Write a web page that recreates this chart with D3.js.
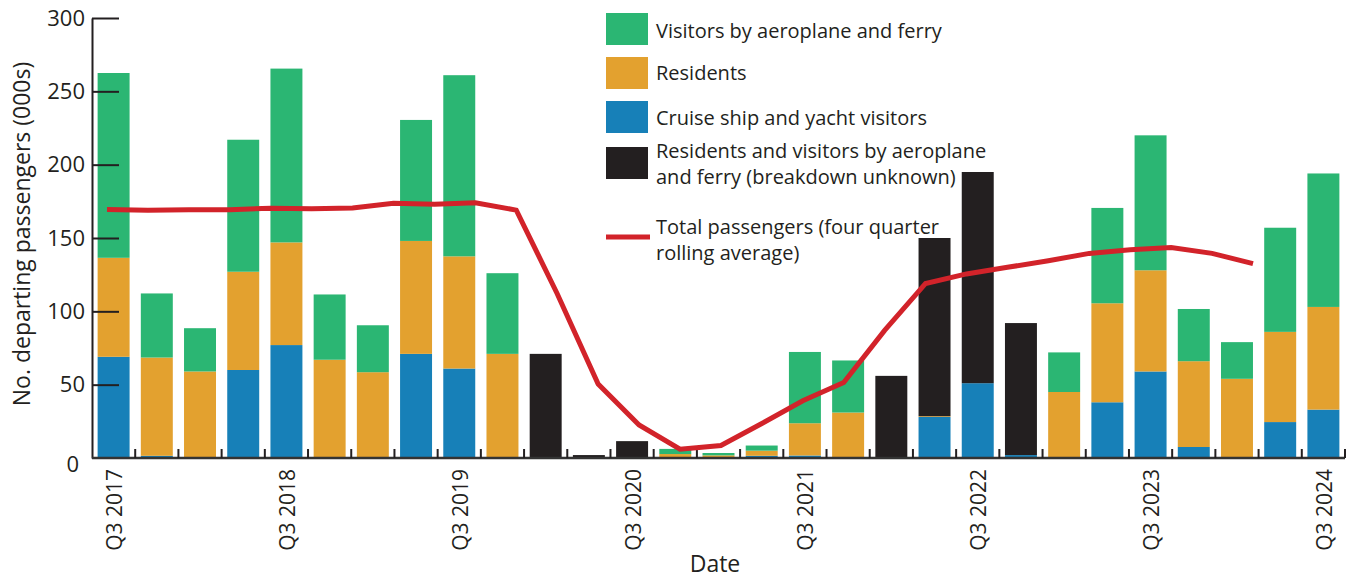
<!DOCTYPE html>
<html><head><meta charset="utf-8">
<script src="https://cdn.jsdelivr.net/npm/d3@7"></script>
<style>
html,body{margin:0;padding:0;background:#fff;}
svg text{font-family:"Open Sans",sans-serif;fill:#231f20;}
</style></head>
<body>
<svg id="chart" width="1349" height="578"></svg>
<script>
const categories = ["Q3 2017","Q4 2017","Q1 2018","Q2 2018","Q3 2018","Q4 2018","Q1 2019","Q2 2019","Q3 2019","Q4 2019","Q1 2020","Q2 2020","Q3 2020","Q4 2020","Q1 2021","Q2 2021","Q3 2021","Q4 2021","Q1 2022","Q2 2022","Q3 2022","Q4 2022","Q1 2023","Q2 2023","Q3 2023","Q4 2023","Q1 2024","Q2 2024","Q3 2024"];
const cruise    = [69,1.5,0,60,77,0,0,71,61,0,0,0,0,0.2,0.3,1.5,1.7,0,0,28,51,2,0,38,59,7.5,0.5,24.5,33];
const residents = [67.5,67,59,67,70,67,58.5,77,76.5,71,0,0,0,2.5,1.5,3.5,22,31,0,0.5,0,0,45,67.5,69,58.5,53.5,61.5,70];
const visitors  = [126,43.7,29.5,90,118.5,44.5,32,82.5,123.5,55,0,0,0,3.5,1.6,3.5,48.6,35.5,0,0,0,0,27,65,92,35.6,25,71,91];
const unknown   = [0,0,0,0,0,0,0,0,0,0,71,2,11.5,0,0,0,0,0,56,121.5,144,90,0,0,0,0,0,0,0];
const rolling   = [169.5,169,169.3,169.3,170.3,170,170.5,173.7,173,174,169,112,50.5,22.5,6,8.5,23.5,39,51.5,87,119,125.5,130,134.5,139.5,142,143.5,139.5,132.5];
const yTicks = [0,50,100,150,200,250,300];
const xLabels = ["Q3 2017","Q3 2018","Q3 2019","Q3 2020","Q3 2021","Q3 2022","Q3 2023","Q3 2024"];
const seriesKeys = ["cruise","residents","visitors","unknown"];
const seriesNames = {visitors:"Visitors by aeroplane and ferry",residents:"Residents",cruise:"Cruise ship and yacht visitors",unknown:["Residents and visitors by aeroplane","and ferry (breakdown unknown)"]};
const lineName = ["Total passengers (four quarter","rolling average)"];
const colors = {visitors:"#2bb673",residents:"#e3a12f",cruise:"#1780b8",unknown:"#231f20"};
const lineColor = "#d2232a";

(function(){
const svg = d3.select("#chart");
const mL = 92, mR = 1345, mT = 18, mB = 458;
const x = d3.scaleBand().domain(categories).range([mL,mR]).paddingInner(0.26).paddingOuter(0.13);
const xLine = d3.scalePoint().domain(categories).range([107,1253]);
const y = d3.scaleLinear().domain([0,300]).range([mB,mT]);

const table = categories.map((c,i)=>({cat:c,cruise:cruise[i],residents:residents[i],visitors:visitors[i],unknown:unknown[i]}));
const stacked = d3.stack().keys(seriesKeys)(table);

svg.append("g").selectAll("g").data(stacked).join("g")
  .attr("fill",d=>colors[d.key])
  .selectAll("rect").data(d=>d).join("rect")
  .attr("x",d=>x(d.data.cat)).attr("width",x.bandwidth())
  .attr("y",d=>y(d[1])).attr("height",d=>Math.max(0,y(d[0])-y(d[1])));

// y axis
const yAxis = d3.axisLeft(y).tickValues(yTicks).tickSizeInner(-27).tickSizeOuter(0).tickPadding(7);
const yg = svg.append("g").attr("transform",`translate(${mL},0)`).call(yAxis);
yg.select(".domain").attr("stroke","#231f20").attr("stroke-width",2);
yg.selectAll(".tick line").attr("stroke","#231f20").attr("stroke-width",2);
yg.selectAll(".tick").filter(d=>d===0).select("line").remove();
yg.selectAll("text").attr("font-size",22).attr("font-family","Open Sans").attr("fill","#231f20");
yg.selectAll(".tick").filter(d=>d===0).select("text").attr("dy","0.6em").attr("x",-13);

// x axis line and boundary ticks
const step = x.step();
const xg = svg.append("g");
xg.append("line").attr("x1",mL).attr("x2",mR).attr("y1",mB).attr("y2",mB).attr("stroke","#333").attr("stroke-width",2.5);
xg.selectAll("line.tk").data(categories).join("line").attr("class","tk")
  .attr("x1",d=>x(d)+x.bandwidth()+step*x.paddingInner()/2)
  .attr("x2",d=>x(d)+x.bandwidth()+step*x.paddingInner()/2)
  .attr("y1",mB).attr("y2",mB-9).attr("stroke","#231f20").attr("stroke-width",2);
xg.selectAll("text").data(xLabels).join("text")
  .attr("transform",d=>`translate(${x(d)+x.bandwidth()/2+1},469) rotate(-90)`)
  .attr("text-anchor","end").attr("dy","0.36em").attr("font-size",21).text(d=>d);

svg.append("text").attr("x",715).attr("y",572).attr("text-anchor","middle").attr("font-size",23).text("Date");
svg.append("text").attr("transform",`translate(30,234) rotate(-90)`).attr("text-anchor","middle").attr("font-size",23).text("No. departing passengers (000s)");

// rolling line
svg.append("path").datum(rolling)
  .attr("d",d3.line().x((d,i)=>xLine(categories[i])).y(d=>y(d)))
  .attr("fill","none").attr("stroke",lineColor).attr("stroke-width",5);

// legend
const lg = svg.append("g");
const legendItems = [
  {key:"visitors",y:13,h:32,lines:[seriesNames.visitors],ty:[31]},
  {key:"residents",y:57,h:32,lines:[seriesNames.residents],ty:[73]},
  {key:"cruise",y:101,h:32,lines:[seriesNames.cruise],ty:[118]},
  {key:"unknown",y:147,h:32,lines:seriesNames.unknown,ty:[151,177]}
];
legendItems.forEach(it=>{
  lg.append("rect").attr("x",606).attr("y",it.y).attr("width",42).attr("height",it.h).attr("fill",colors[it.key]);
  it.lines.forEach((t,j)=>lg.append("text").attr("x",656).attr("y",it.ty[j]).attr("dy","0.35em").attr("font-size",20).text(t));
});
lg.append("line").attr("x1",606).attr("x2",650).attr("y1",237).attr("y2",237).attr("stroke",lineColor).attr("stroke-width",5);
lineName.forEach((t,j)=>lg.append("text").attr("x",656).attr("y",[227,253][j]).attr("dy","0.35em").attr("font-size",20).text(t));
})();
</script>
</body></html>
